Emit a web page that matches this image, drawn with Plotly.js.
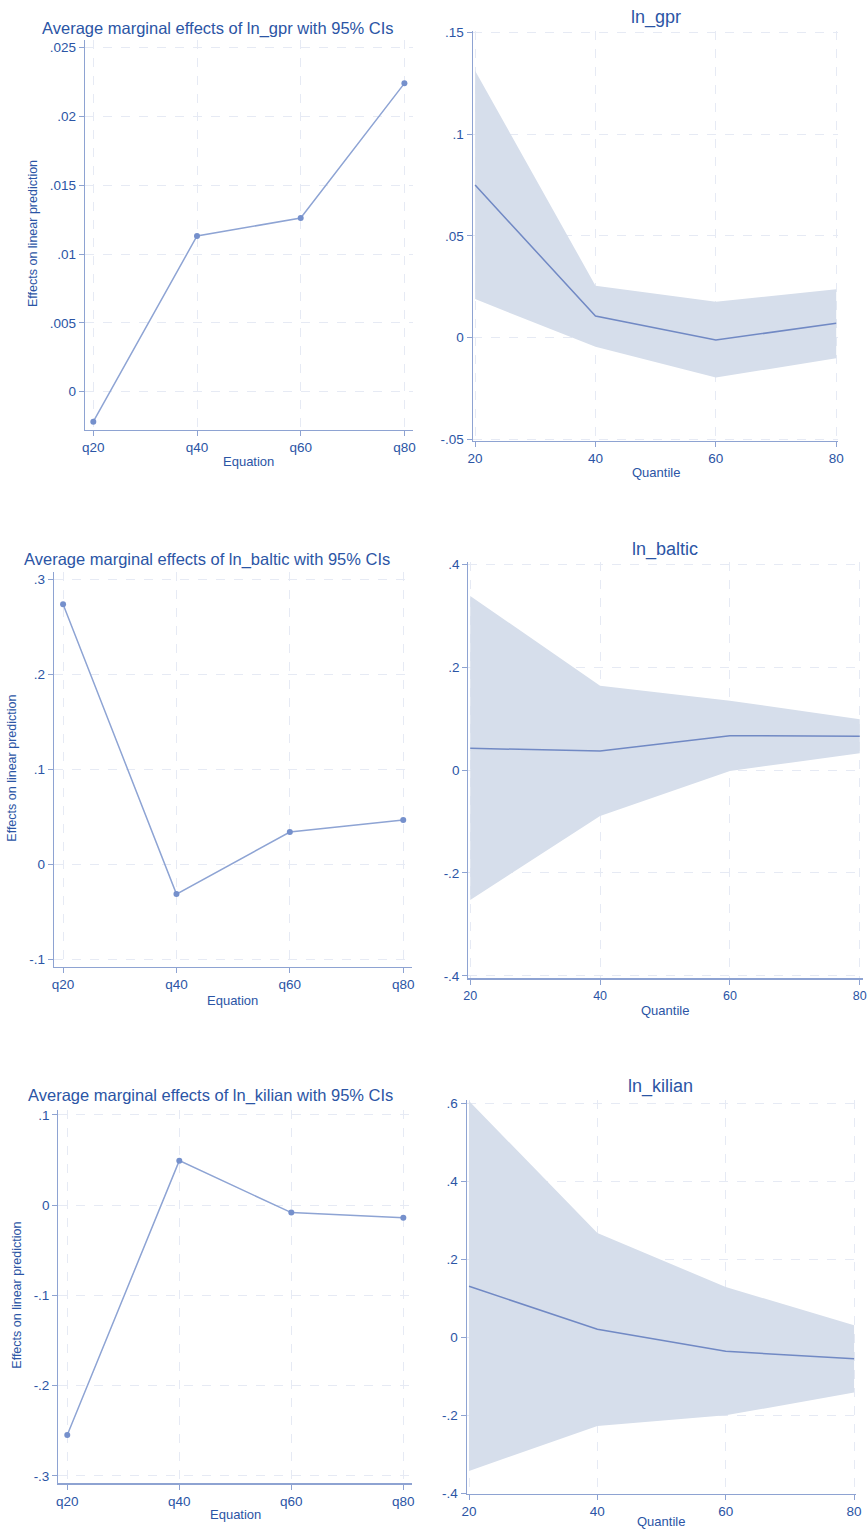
<!DOCTYPE html>
<html>
<head>
<meta charset="utf-8">
<script src="https://cdn.plot.ly/plotly-3.0.1.min.js"></script>
<style>html,body{margin:0;padding:0;background:#fff;}#chart{width:867px;height:1531px;}</style>
</head>
<body>
<div id="chart"></div>
<script>
// ---- data ----
const equations = ["q20", "q40", "q60", "q80"];
const quantiles = [20, 40, 60, 80];

const gprMargins = [-0.00218, 0.01132, 0.01262, 0.02241];
const balticMargins = [0.2737, -0.0316, 0.0337, 0.0464];
const kilianMargins = [-0.2546, 0.0494, -0.0082, -0.0138];

const gprCoef = [0.0749, 0.0106, -0.0012, 0.0070];
const gprUpper = [0.1311, 0.0255, 0.0176, 0.0238];
const gprLower = [0.0189, -0.0045, -0.0196, -0.0102];

const balticCoef = [0.0421, 0.0369, 0.0666, 0.0654];
const balticUpper = [0.3379, 0.1637, 0.1346, 0.0984];
const balticLower = [-0.2524, -0.0893, -0.0019, 0.0324];

const kilianCoef = [0.1308, 0.0205, -0.0359, -0.0547];
const kilianUpper = [0.606, 0.2674, 0.1290, 0.0308];
const kilianLower = [-0.3428, -0.2274, -0.2000, -0.1418];

const gprTicks = [0, 0.005, 0.01, 0.015, 0.02, 0.025];
const gprTickText = ["0", ".005", ".01", ".015", ".02", ".025"];
const gprQTicks = [-0.05, 0, 0.05, 0.1, 0.15];
const gprQTickText = ["-.05", "0", ".05", ".1", ".15"];
const balticTicks = [-0.1, 0, 0.1, 0.2, 0.3];
const balticTickText = ["-.1", "0", ".1", ".2", ".3"];
const balticQTicks = [-0.4, -0.2, 0, 0.2, 0.4];
const balticQTickText = ["-.4", "-.2", "0", ".2", ".4"];
const kilianTicks = [-0.3, -0.2, -0.1, 0, 0.1];
const kilianTickText = ["-.3", "-.2", "-.1", "0", ".1"];
const kilianQTicks = [-0.4, -0.2, 0, 0.2, 0.4, 0.6];
const kilianQTickText = ["-.4", "-.2", "0", ".2", ".4", ".6"];

// ---- styles ----
const W = 867, H = 1531;
const TXT = "#2b55a5";
const AXC = "#8ea3d2";
const LINE_L = "#8ea4d4";
const MARK = "#7590cc";
const LINE_R = "#7189c4";
const FILL = "rgba(214,222,235,1)";
const GRID = "#e6eaf4";
const FONT = "Liberation Sans, Arial, sans-serif";

function xd(a, b) { return [a / W, b / W]; }
function yd(top, bot) { return [1 - bot / H, 1 - top / H]; }

function axisBase() {
  return {
    showline: true, linecolor: AXC, linewidth: 1.2,
    ticks: "outside", ticklen: 5, tickcolor: AXC, tickwidth: 1,
    showgrid: true, gridcolor: GRID, griddash: "dash", gridwidth: 1,
    zeroline: false, tickfont: { family: FONT, size: 13.5, color: TXT },
    fixedrange: true
  };
}

const traces = [];
const layout = {
  width: W, height: H, margin: { l: 0, r: 0, t: 0, b: 0 },
  paper_bgcolor: "#fff", plot_bgcolor: "#fff", showlegend: false,
  font: { family: FONT, color: TXT },
  annotations: []
};

function addLeft(n, vals, domX, domY, yr, tv, tt) {
  traces.push({
    x: equations, y: vals, type: "scatter", mode: "lines+markers",
    line: { color: LINE_L, width: 1.5 }, marker: { color: MARK, size: 6 },
    xaxis: "x" + n, yaxis: "y" + n, cliponaxis: false
  });
  const xa = axisBase();
  Object.assign(xa, { domain: domX, anchor: "y" + n, type: "category", range: [-0.08, 3.08] });
  const ya = axisBase();
  Object.assign(ya, { domain: domY, anchor: "x" + n, range: yr, tickvals: tv, ticktext: tt });
  layout["xaxis" + n] = xa;
  layout["yaxis" + n] = ya;
}

function addRight(n, coef, up, lo, domX, domY, xr, yr, tv, tt) {
  traces.push({
    x: quantiles, y: lo, type: "scatter", mode: "lines", line: { width: 0, color: FILL },
    xaxis: "x" + n, yaxis: "y" + n, hoverinfo: "skip"
  });
  traces.push({
    x: quantiles, y: up, type: "scatter", mode: "lines", line: { width: 0, color: FILL },
    fill: "tonexty", fillcolor: FILL, xaxis: "x" + n, yaxis: "y" + n, hoverinfo: "skip"
  });
  traces.push({
    x: quantiles, y: coef, type: "scatter", mode: "lines",
    line: { color: LINE_R, width: 1.5 }, xaxis: "x" + n, yaxis: "y" + n
  });
  const xa = axisBase();
  Object.assign(xa, { domain: domX, anchor: "y" + n, range: xr, tickvals: quantiles, ticktext: quantiles.map(String) });
  const ya = axisBase();
  Object.assign(ya, { domain: domY, anchor: "x" + n, range: yr, tickvals: tv, ticktext: tt });
  layout["xaxis" + n] = xa;
  layout["yaxis" + n] = ya;
}

function ann(text, x, y, size, rot) {
  layout.annotations.push({
    text: text, xref: "paper", yref: "paper", x: x / W, y: 1 - y / H,
    xanchor: "center", yanchor: "middle", showarrow: false,
    textangle: rot || 0, font: { family: FONT, size: size, color: TXT }
  });
}

// Row 1
addLeft(1, gprMargins, xd(85, 412.7), yd(40, 430), [-0.00278, 0.02556], gprTicks, gprTickText);
addRight(2, gprCoef, gprUpper, gprLower, xd(472.7, 838), yd(31, 441), [19.6, 80.3], [-0.0508, 0.1506], gprQTicks, gprQTickText);
// Row 2
addLeft(3, balticMargins, xd(54, 412.3), yd(571.7, 966.7), [-0.1081, 0.308], balticTicks, balticTickText);
addRight(4, balticCoef, balticUpper, balticLower, xd(468.3, 863), yd(561.7, 978.3), [19.7, 80.5], [-0.4045, 0.4045], balticQTicks, balticQTickText);
layout.xaxis4.tickfont = { family: FONT, size: 12.5, color: TXT };
// Row 3
addLeft(5, kilianMargins, xd(58.3, 412.3), yd(1110, 1483.3), [-0.3081, 0.1055], kilianTicks, kilianTickText);
addRight(6, kilianCoef, kilianUpper, kilianLower, xd(466.7, 856), yd(1100, 1494), [19.64, 80.3], [-0.4018, 0.6085], kilianQTicks, kilianQTickText);

// Titles
ann("Average marginal effects of ln_gpr with 95% CIs", 218, 28, 16.5);
ann("ln_gpr", 655.7, 17, 18);
ann("Average marginal effects of ln_baltic with 95% CIs", 207, 559.3, 16.5);
ann("ln_baltic", 665, 549.3, 18);
ann("Average marginal effects of ln_kilian with 95% CIs", 210, 1095.7, 16.5);
ann("ln_kilian", 660.7, 1086, 18);

// Axis titles
ann("Equation", 248, 461.7, 13);
ann("Quantile", 655.7, 472.7, 13);
ann("Equation", 233, 1000, 13);
ann("Quantile", 665, 1010.7, 13);
ann("Equation", 235, 1514, 13);
ann("Quantile", 660.7, 1521, 13);
ann("Effects on linear prediction", 33, 234, 12.5, -90);
ann("Effects on linear prediction", 11.7, 768, 12.5, -90);
ann("Effects on linear prediction", 16.7, 1295, 12.5, -90);

Plotly.newPlot("chart", traces, layout, { staticPlot: true, displayModeBar: false });
</script>
</body>
</html>
